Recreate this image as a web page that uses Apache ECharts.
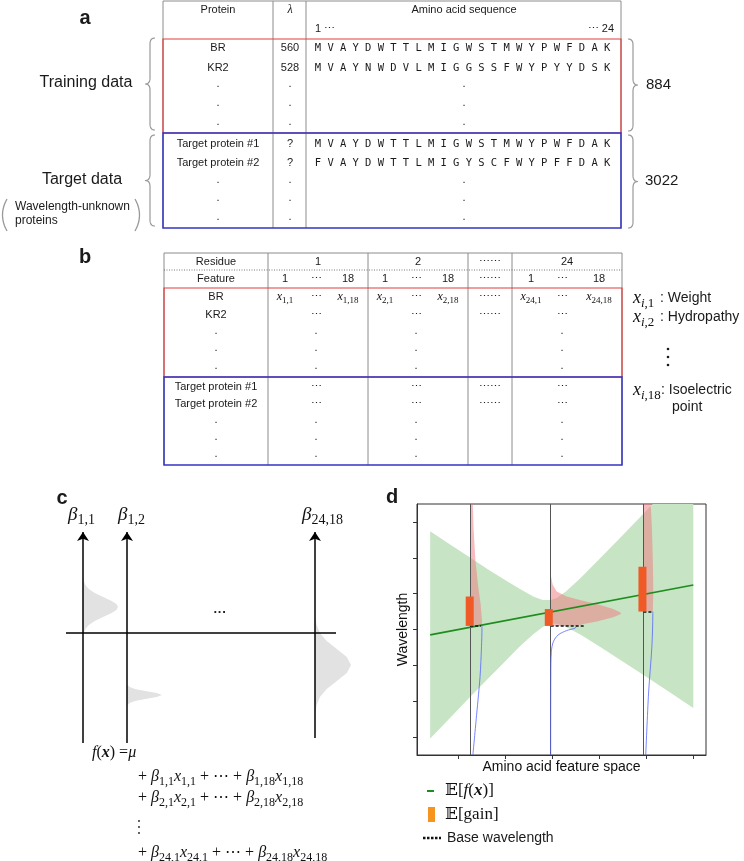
<!DOCTYPE html>
<html><head><meta charset="utf-8"><title>chart</title>
<script src="https://cdn.jsdelivr.net/npm/echarts@6.0.0/dist/echarts.min.js"></script>
<style>html,body{margin:0;padding:0;background:#fff;}#chart{width:744px;height:861px;}</style>
</head><body><div id="chart"></div>
<script>
// ===== Panel a : protein table =====
const aHeaders = ['Protein', 'λ', 'Amino acid sequence'];
const aTrainNames = ['BR', 'KR2'];
const aTrainLambda = ['560', '528'];
const aTrainSeqs = ['MVAYDWTTLMIGWSTMWYPWFDAK', 'MVAYNWDVLMIGGSSFWYPYYDSK'];
const aTargetNames = ['Target protein #1', 'Target protein #2'];
const aTargetLambda = ['?', '?'];
const aTargetSeqs = ['MVAYDWTTLMIGWSTMWYPWFDAK', 'FVAYDWTTLMIGYSCFWYPFFDAK'];
const aGroupLabels = ['Training data', 'Target data'];
const aGroupNote = ['Wavelength-unknown', 'proteins'];
const aGroupCounts = ['884', '3022'];
const aSeqEnds = ['1', '24'];
// ===== Panel b : feature table =====
const bHeaders = ['Residue', 'Feature'];
const bResidues = ['1', '2', '24'];
const bFeatureEnds = ['1', '18'];
const bRowNames = ['BR', 'KR2', 'Target protein #1', 'Target protein #2'];
const bFeatureIdx = ['1', '2', '18'];
const bFeatureNames = ['Weight', 'Hydropathy', 'Isoelectric', 'point'];
// ===== Panel c : coefficient priors =====
const cBetaLabels = ['1,1', '1,2', '24,18'];
const cBetaAxisX = [1.7, 6.1, 24.9];
const cAxisBottom = [-11, -11, -10.5];
const cAxisTop = 10.1;
const cDist1Y = [0.0, 0.4, 0.8, 1.2, 1.6, 2.0, 2.3, 2.6, 2.9, 3.2, 3.6, 4.0, 4.4, 4.8, 5.2, 5.6];
const cDist1W = [0.08, 0.24, 0.58, 1.18, 2.01, 2.87, 3.33, 3.5, 3.33, 2.87, 2.01, 1.18, 0.58, 0.24, 0.08, 0.02];
const cDist2Y = [-7.2, -7.0, -6.8, -6.6, -6.4, -6.2, -6.0, -5.8, -5.6, -5.4, -5.2];
const cDist2W = [0.06, 0.26, 0.81, 1.82, 2.97, 3.5, 2.97, 1.82, 0.81, 0.26, 0.06];
const cDist3Y = [1.6, 0.8, 0.0, -0.8, -1.6, -2.4, -3.2, -4.0, -4.8, -5.6, -6.4, -7.2, -8.0, -8.8];
const cDist3W = [0.04, 0.16, 0.49, 1.17, 2.18, 3.18, 3.6, 3.18, 2.18, 1.17, 0.49, 0.16, 0.04, 0.01];
// ===== Panel d : model sketch =====
const dXTicks = [1, 2, 3, 4, 5, 6];
const dYTicks = [1, 2, 3, 4, 5, 6, 7];
const dMeanX = [0.41, 6.0];
const dMeanY = [3.85, 5.24];
const dBandX = [0.41, 0.8, 1.2, 1.6, 2.0, 2.3, 2.6, 2.8, 2.96, 3.1, 3.3, 3.6, 4.0, 4.5, 5.0, 5.5, 6.0];
const dBandTop = [6.74, 6.40, 6.06, 5.71, 5.38, 5.14, 4.92, 4.82, 4.82, 4.88, 5.07, 5.43, 5.96, 6.63, 7.31, 7.99, 8.67];
const dBandBottom = [0.96, 1.49, 2.04, 2.58, 3.11, 3.51, 3.87, 4.07, 4.16, 4.16, 4.07, 3.86, 3.53, 3.11, 2.68, 2.25, 1.81];
const dObsX = [1.26, 2.97, 4.94];
const dBaseWavelength = [4.10, 4.10, 4.50];
const dBaseEndX = [1.49, 3.68, 5.14];
const dGainX = [1.25, 2.93, 4.92];
const dGainTop = [4.92, 4.57, 5.75];
const dDens1PinkY = [7.5, 6.87, 5.94, 5.20, 4.73, 4.27, 4.10];
const dDens1PinkW = [0.057, 0.07, 0.11, 0.17, 0.22, 0.25, 0.25];
const dDens1BlueY = [4.10, 4.04, 3.52, 2.69, 1.67, 0.5];
const dDens1BlueW = [0.25, 0.25, 0.24, 0.21, 0.14, 0.057];
const dDens2PinkY = [5.52, 5.25, 5.06, 4.92, 4.82, 4.71, 4.57, 4.47, 4.43, 4.34, 4.22, 4.15, 4.10];
const dDens2PinkW = [0, 0.043, 0.128, 0.34, 0.62, 0.98, 1.33, 1.49, 1.49, 1.33, 0.98, 0.70, 0.55];
const dDens2BlueY = [4.10, 4.04, 3.97, 3.85, 3.66, 3.38, 2.69, 0.5];
const dDens2BlueW = [0.55, 0.52, 0.34, 0.16, 0.057, 0.014, 0.003, 0];
const dDens3PinkY = [7.5, 6.87, 5.94, 5.01, 4.50];
const dDens3PinkW = [0.156, 0.18, 0.2, 0.21, 0.2];
const dDens3BlueY = [4.50, 4.45, 3.52, 2.23, 0.5];
const dDens3BlueW = [0.2, 0.2, 0.18, 0.11, 0.05];
const dLegend = ['Base wavelength'];

// ================= drawing helpers =================
const G = [];
const SANS = '"Liberation Sans", Arial, sans-serif';
const SERIF = '"Liberation Serif", "DejaVu Serif", serif';
const INK = '#1a1a1a';
const GRAY = '#8c8c8c';
const RED = '#e03c3c';
const BLUE = '#3434c4';
const mctx = document.createElement('canvas').getContext('2d');
function measure(t, f) { mctx.font = f; return mctx.measureText(t).width; }
function addLine(x1, y1, x2, y2, stroke, lw, dash) {
  G.push({ type: 'line', silent: true, shape: { x1, y1, x2, y2 }, style: { stroke, lineWidth: lw || 1, lineDash: dash || null } });
}
function addRect(x, y, w, h, stroke, lw) {
  G.push({ type: 'rect', silent: true, shape: { x, y, width: w, height: h }, style: { fill: 'none', stroke, lineWidth: lw } });
}
function addText(x, y, text, font, align, fill) {
  align = align || 'center';
  G.push({ type: 'text', silent: true, style: { x, y, text, font, fill: fill || INK, textAlign: align, textVerticalAlign: 'middle', align, verticalAlign: 'middle' } });
}
function addDot(x, y, r) { G.push({ type: 'circle', silent: true, shape: { cx: x, cy: y, r }, style: { fill: INK } }); }
function addPoly(points, stroke, lw) { G.push({ type: 'polyline', silent: true, shape: { points }, style: { fill: 'none', stroke, lineWidth: lw } }); }
function quad(p0, c, p1, n) {
  const out = [];
  for (let k = 0; k <= n; k++) {
    const t = k / n, u = 1 - t;
    out.push([u * u * p0[0] + 2 * u * t * c[0] + t * t * p1[0], u * u * p0[1] + 2 * u * t * c[1] + t * t * p1[1]]);
  }
  return out;
}
function brace(xEdge, y1, y2, w, dir, color) {
  const xm = xEdge + dir * w / 2, xt = xEdge + dir * w, ym = (y1 + y2) / 2, r = 6;
  const pts = [].concat(
    quad([xEdge, y1], [xm, y1], [xm, y1 + r], 8),
    quad([xm, ym - r], [xm, ym], [xt, ym], 8),
    quad([xt, ym], [xm, ym], [xm, ym + r], 8),
    quad([xm, y2 - r], [xm, y2], [xEdge, y2], 8)
  );
  addPoly(pts, color || '#9a9a9a', 1.2);
}
function fontOf(k, s) {
  const ss = Math.round(s * 0.74);
  switch (k) {
    case 'i': return `italic ${s}px ${SERIF}`;
    case 'b': return `italic bold ${s}px ${SERIF}`;
    case 's': return `${ss}px ${SERIF}`;
    case 'si': return `italic ${ss}px ${SERIF}`;
    case 'bb': return `${s}px "DejaVu Serif", "DejaVu Sans", serif`;
    default: return `${s}px ${SERIF}`;
  }
}
function math(x, y, parts, size, align) {
  const ws = parts.map(([t, k]) => measure(t, fontOf(k, size)));
  const total = ws.reduce((a, b) => a + b, 0);
  let cx = align === 'center' ? x - total / 2 : (align === 'right' ? x - total : x);
  parts.forEach(([t, k], i) => {
    const sub = (k === 's' || k === 'si');
    addText(cx, y + (sub ? size * 0.3 : 0), t, fontOf(k, size), 'left', '#111');
    cx += ws[i];
  });
}

// ================= panel labels =================
const LBL = 'bold 20px ' + SANS;
addText(85, 18, 'a', LBL); addText(85, 257, 'b', LBL); addText(62, 498, 'c', LBL); addText(392, 497, 'd', LBL);

// ================= panel a =================
const A = { l: 163, r: 621, t: 1, c1: 273, c2: 306, red: 39, mid: 133, b: 228 };
addLine(A.l, A.t, A.r, A.t, GRAY, 1);
[A.l, A.c1, A.c2, A.r].forEach(x => addLine(x, A.t, x, A.b, GRAY, 1));
addRect(A.l, A.red, A.r - A.l, A.mid - A.red, RED, 1.2);
addRect(A.l, A.mid, A.r - A.l, A.b - A.mid, BLUE, 1.5);
const F11 = '11px ' + SANS;
const colProt = 218, colLam = 290, colSeq = 464;
addText(colProt, 10, aHeaders[0], F11);
addText(colLam, 10, aHeaders[1], 'italic 12px ' + SERIF);
addText(colSeq, 10, aHeaders[2], F11);
addText(315, 29, aSeqEnds[0] + ' ⋯', F11, 'left');
addText(614, 29, '⋯ ' + aSeqEnds[1], F11, 'right');
const aRowY = [48, 68, 86, 105, 124, 144, 163, 182, 200, 219];
const seqFont = '10.5px "DejaVu Sans Mono", monospace';
function seqRow(s, y) { for (let i = 0; i < s.length; i++) addText(318 + i * 12.57, y, s[i], seqFont); }
aTrainNames.forEach((n, i) => { addText(colProt, aRowY[i], n, F11); addText(colLam, aRowY[i], aTrainLambda[i], F11); seqRow(aTrainSeqs[i], aRowY[i]); });
aTargetNames.forEach((n, i) => { const y = aRowY[5 + i]; addText(colProt, y, n, F11); addText(colLam, y, aTargetLambda[i], F11); seqRow(aTargetSeqs[i], y); });
[2, 3, 4, 7, 8, 9].forEach(r => { [colProt, colLam, colSeq].forEach(x => addText(x, aRowY[r] - 2, '.', F11)); });
brace(628, 39, 131, 10, 1); brace(628, 135, 228, 10, 1);
brace(155, 38, 130, 10, -1); brace(155, 135, 226, 10, -1);
addText(646, 85, aGroupCounts[0], '15px ' + SANS, 'left');
addText(645, 181, aGroupCounts[1], '15px ' + SANS, 'left');
addText(86, 83, aGroupLabels[0], '16px ' + SANS);
addText(82, 180, aGroupLabels[1], '16px ' + SANS);
addText(15, 207, aGroupNote[0], '12px ' + SANS, 'left');
addText(15, 221, aGroupNote[1], '12px ' + SANS, 'left');
addPoly(quad([7, 199], [-2, 215], [7, 231], 12), '#999', 1.3);
addPoly(quad([135, 199], [144, 215], [135, 231], 12), '#999', 1.3);

// ================= panel b =================
const B = { l: 164, r: 622, t: 253, dot: 270, red: 288, mid: 377, b: 465, cols: [268, 368, 468, 512] };
addLine(B.l, B.t, B.r, B.t, GRAY, 1);
[B.l, ...B.cols, B.r].forEach(x => addLine(x, B.t, x, B.b, GRAY, 1));
addLine(B.l, B.dot, B.r, B.dot, '#555', 0.8, [1, 1.5]);
addRect(B.l, B.red, B.r - B.l, B.mid - B.red, RED, 1.2);
addRect(B.l, B.mid, B.r - B.l, B.b - B.mid, BLUE, 1.5);
const bLabelX = 216, bGroupX = [318, 418, 567], bSubX = [[285, 316, 348], [385, 416, 448], [531, 562, 599]], bGapX = 490;
addText(bLabelX, 262, bHeaders[0], F11); addText(bLabelX, 279, bHeaders[1], F11);
bResidues.forEach((r, g) => {
  addText(bGroupX[g], 262, r, F11);
  addText(bSubX[g][0], 279, bFeatureEnds[0], F11);
  addText(bSubX[g][1], 279, '⋯', F11);
  addText(bSubX[g][2], 279, bFeatureEnds[1], F11);
});
addText(bGapX, 262, '⋯⋯', F11); addText(bGapX, 279, '⋯⋯', F11);
const bRowY = [297, 315, 333, 350, 368, 387, 404, 422, 439, 456];
const bNamedRows = [0, 1, 5, 6];
bRowNames.forEach((n, i) => addText(bLabelX, bRowY[bNamedRows[i]], n, F11));
bResidues.forEach((r, g) => {
  math(bSubX[g][0], bRowY[0], [['x', 'i'], [r + ',' + bFeatureEnds[0], 's']], 12, 'center');
  addText(bSubX[g][1], bRowY[0], '⋯', F11);
  math(bSubX[g][2], bRowY[0], [['x', 'i'], [r + ',' + bFeatureEnds[1], 's']], 12, 'center');
  [1, 5, 6].forEach(rr => addText(bSubX[g][1], bRowY[rr], '⋯', F11));
  [2, 3, 4, 7, 8, 9].forEach(rr => addText(bSubX[g][1], bRowY[rr] - 2, '.', F11));
});
[0, 1, 5, 6].forEach(rr => addText(bGapX, bRowY[rr], '⋯⋯', F11));
[2, 3, 4, 7, 8, 9].forEach(rr => addText(bLabelX, bRowY[rr] - 2, '.', F11));
const F14 = '14px ' + SANS;
math(633, 298, [['x', 'i'], ['i', 'si'], [',' + bFeatureIdx[0], 's']], 18, 'left');
addText(660, 298, ': ' + bFeatureNames[0], F14, 'left');
math(633, 317, [['x', 'i'], ['i', 'si'], [',' + bFeatureIdx[1], 's']], 18, 'left');
addText(660, 317, ': ' + bFeatureNames[1], F14, 'left');
addDot(668, 349, 1.3); addDot(668, 357, 1.3); addDot(668, 365, 1.3);
math(633, 390, [['x', 'i'], ['i', 'si'], [',' + bFeatureIdx[2], 's']], 18, 'left');
addText(661, 390, ': ' + bFeatureNames[2], F14, 'left');
addText(672, 407, bFeatureNames[3], F14, 'left');

// ================= panel c texts =================
cBetaLabels.forEach((s, i) => math([68, 118, 302][i], 515, [['β', 'i'], [s, 's']], 19, 'left'));
addText(220, 612, '···', 'bold 13px ' + SANS);
math(92, 753, [['f', 'i'], ['(', 'r'], ['x', 'b'], [')', 'r'], [' =', 'r'], ['μ', 'i']], 16, 'left');
function sumLine(y, r) {
  math(138, y, [['+ ', 'r'], ['β', 'i'], [r + ',1', 's'], ['x', 'i'], [r + ',1', 's'], [' + ⋯ + ', 'r'], ['β', 'i'], [r + ',18', 's'], ['x', 'i'], [r + ',18', 's']], 16, 'left');
}
sumLine(777, bResidues[0]); sumLine(798, bResidues[1]); sumLine(853, bResidues[2]);
addDot(139, 821, 0.9); addDot(139, 827, 0.9); addDot(139, 833, 0.9);

// ================= panel d legend =================
addLine(427, 791, 434, 791, '#1e8c1e', 2);
math(445, 791, [['𝔼', 'bb'], ['[', 'r'], ['f', 'i'], ['(', 'r'], ['x', 'b'], [')', 'r'], [']', 'r']], 17, 'left');
G.push({ type: 'rect', silent: true, shape: { x: 428, y: 807, width: 7, height: 15 }, style: { fill: '#f7941d' } });
math(445, 815, [['𝔼', 'bb'], ['[gain]', 'r']], 17, 'left');
addLine(423, 838, 441, 838, '#111', 2.5, [2.5, 1.5]);
addText(447, 838, dLegend[0], '14px ' + SANS, 'left');

// ================= series helpers =================
function sideways(axisX, ys, ws) {
  const pts = [[axisX, ys[0]]];
  ys.forEach((y, i) => pts.push([axisX + ws[i], y]));
  pts.push([axisX, ys[ys.length - 1]]);
  return pts;
}
function polySeries(pts, fill, xi, z, clip) {
  return {
    type: 'custom', xAxisIndex: xi, yAxisIndex: xi, silent: true, clip: clip, z,
    data: pts,
    renderItem: function (params, api) {
      if (params.dataIndex !== 0) return null;
      return { type: 'polygon', shape: { points: pts.map(p => api.coord(p)) }, style: { fill } };
    }
  };
}
function blueSeries(axisX, ys, ws) {
  return {
    type: 'line', xAxisIndex: 1, yAxisIndex: 1, silent: true, symbol: 'none', smooth: 0.3, z: 4,
    data: ys.map((y, i) => [axisX + ws[i], y]), lineStyle: { color: '#5566ff', width: 0.8 }
  };
}
const bandPts = dBandX.map((x, i) => [x, dBandTop[i]]).concat(dBandX.map((x, i) => [x, dBandBottom[i]]).reverse());
const PINK = 'rgba(240,120,125,0.5)';

const series = [
  {
    type: 'lines', coordinateSystem: 'cartesian2d', xAxisIndex: 0, yAxisIndex: 0, silent: true, z: 5,
    symbol: ['none', 'arrow'], symbolSize: 9,
    data: cBetaAxisX.map((x, i) => ({ coords: [[x, cAxisBottom[i]], [x, cAxisTop]] })),
    lineStyle: { color: '#000', width: 1.5, opacity: 1, curveness: 0 }
  },
  {
    type: 'lines', coordinateSystem: 'cartesian2d', xAxisIndex: 0, yAxisIndex: 0, silent: true, z: 5,
    symbol: 'none', data: [{ coords: [[0, 0], [27, 0]] }],
    lineStyle: { color: '#000', width: 1.5, opacity: 1, curveness: 0 }
  },
  polySeries(sideways(cBetaAxisX[0], cDist1Y, cDist1W), '#e2e2e2', 0, 2, false),
  polySeries(sideways(cBetaAxisX[1], cDist2Y, cDist2W), '#e2e2e2', 0, 2, false),
  polySeries(sideways(cBetaAxisX[2], cDist3Y, cDist3W), '#e2e2e2', 0, 2, false),
  polySeries(bandPts, '#c7e5c4', 1, 1, true),
  polySeries(sideways(dObsX[0], dDens1PinkY, dDens1PinkW), PINK, 1, 2, true),
  polySeries(sideways(dObsX[1], dDens2PinkY, dDens2PinkW), PINK, 1, 2, true),
  polySeries(sideways(dObsX[2], dDens3PinkY, dDens3PinkW), PINK, 1, 2, true),
  {
    type: 'lines', coordinateSystem: 'cartesian2d', xAxisIndex: 1, yAxisIndex: 1, silent: true, z: 3,
    symbol: 'none', data: dObsX.map(x => ({ coords: [[x, 0.5], [x, 7.5]] })),
    lineStyle: { color: '#555', width: 1, opacity: 1 }
  },
  blueSeries(dObsX[0], dDens1BlueY, dDens1BlueW),
  blueSeries(dObsX[1], dDens2BlueY, dDens2BlueW),
  blueSeries(dObsX[2], dDens3BlueY, dDens3BlueW),
  {
    type: 'line', xAxisIndex: 1, yAxisIndex: 1, silent: true, symbol: 'none', z: 5,
    data: dMeanX.map((x, i) => [x, dMeanY[i]]), lineStyle: { color: '#1e8c1e', width: 1.6 }
  },
  {
    type: 'lines', coordinateSystem: 'cartesian2d', xAxisIndex: 1, yAxisIndex: 1, silent: true, z: 6,
    symbol: 'none', data: dObsX.map((x, i) => ({ coords: [[x, dBaseWavelength[i]], [dBaseEndX[i], dBaseWavelength[i]]] })),
    lineStyle: { color: '#111', width: 1.5, opacity: 1, type: [3, 2] }
  },
  {
    type: 'custom', xAxisIndex: 1, yAxisIndex: 1, silent: true, z: 7,
    data: dGainX.map((x, i) => [x, dBaseWavelength[i], dGainTop[i]]),
    renderItem: function (params, api) {
      const p0 = api.coord([api.value(0), api.value(1)]);
      const p1 = api.coord([api.value(0), api.value(2)]);
      return { type: 'rect', shape: { x: p0[0] - 4, y: p1[1], width: 8, height: p0[1] - p1[1] }, style: { fill: '#ef5a26' } };
    }
  }
];

const option = {
  animation: false,
  backgroundColor: '#fff',
  grid: [
    { left: 66, top: 532, width: 270, height: 211, show: false },
    { left: 417, top: 504, width: 289, height: 251, show: true, borderColor: '#333', borderWidth: 1 }
  ],
  xAxis: [
    { gridIndex: 0, type: 'value', min: 0, max: 27, show: false },
    {
      gridIndex: 1, type: 'value', min: 0.13, max: 6.27,
      axisLine: { show: true, lineStyle: { color: '#333' } },
      axisTick: { show: true, customValues: dXTicks, length: 4, lineStyle: { color: '#333' } },
      axisLabel: { show: false }, splitLine: { show: false },
      name: 'Amino acid feature space', nameLocation: 'middle', nameGap: 5,
      nameTextStyle: { fontSize: 14, color: '#111', fontFamily: 'Liberation Sans' }
    }
  ],
  yAxis: [
    { gridIndex: 0, type: 'value', min: -11, max: 10.1, show: false },
    {
      gridIndex: 1, type: 'value', min: 0.5, max: 7.5,
      axisLine: { show: true, lineStyle: { color: '#333' } },
      axisTick: { show: true, customValues: dYTicks, length: 4, lineStyle: { color: '#333' } },
      axisLabel: { show: false }, splitLine: { show: false },
      name: 'Wavelength', nameLocation: 'middle', nameGap: 7,
      nameTextStyle: { fontSize: 14, color: '#111', fontFamily: 'Liberation Sans' }
    }
  ],
  series,
  graphic: { elements: G }
};
const chart = echarts.init(document.getElementById('chart'), null, { renderer: 'canvas' });
chart.setOption(option);
</script>
</body></html>
